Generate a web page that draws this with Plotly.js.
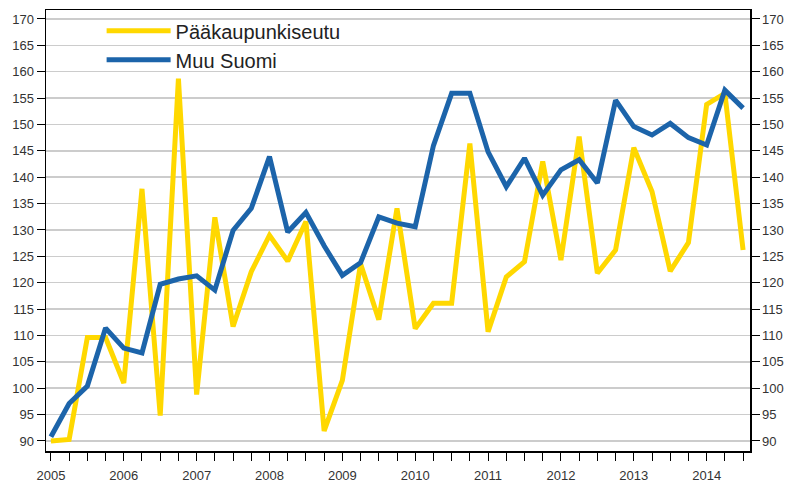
<!DOCTYPE html>
<html>
<head>
<meta charset="utf-8">
<script src="https://cdn.plot.ly/plotly-3.0.1.min.js"></script>
<style>html,body{margin:0;padding:0;background:#fff;}#chart{width:789px;height:491px;}</style>
</head>
<body>
<div id="chart"></div>
<script>
// Quarters 2005Q1 .. 2014Q3
const quarters = [
  "2005Q1","2005Q2","2005Q3","2005Q4",
  "2006Q1","2006Q2","2006Q3","2006Q4",
  "2007Q1","2007Q2","2007Q3","2007Q4",
  "2008Q1","2008Q2","2008Q3","2008Q4",
  "2009Q1","2009Q2","2009Q3","2009Q4",
  "2010Q1","2010Q2","2010Q3","2010Q4",
  "2011Q1","2011Q2","2011Q3","2011Q4",
  "2012Q1","2012Q2","2012Q3","2012Q4",
  "2013Q1","2013Q2","2013Q3","2013Q4",
  "2014Q1","2014Q2","2014Q3"
];
const seriesNames = ["Pääkaupunkiseutu", "Muu Suomi"];
const paakaupunkiseutu = [
  90.0, 90.3, 109.6, 109.6,
  101.0, 137.8, 94.8, 158.7,
  98.8, 132.4, 111.7, 122.1,
  129.0, 124.1, 131.6, 91.9,
  101.5, 123.6, 113.0, 134.1,
  111.3, 116.1, 116.1, 146.4,
  110.7, 121.1, 124.0, 143.0,
  124.3, 147.7, 121.8, 126.2,
  145.6, 137.3, 122.2, 127.6,
  153.8, 155.9, 126.2
];
const muuSuomi = [
  90.8, 97.1, 100.4, 111.4,
  107.6, 106.7, 119.7, 120.7,
  121.3, 118.6, 129.9, 134.1,
  143.9, 129.6, 133.3, 127.0,
  121.4, 123.8, 132.5, 131.3,
  130.6, 146.0, 155.9, 155.9,
  144.8, 138.2, 143.6, 136.6,
  141.4, 143.3, 138.9, 154.6,
  149.6, 148.0, 150.2, 147.5,
  146.1, 156.5, 153.1
];
const yTicks = [90,95,100,105,110,115,120,125,130,135,140,145,150,155,160,165,170];

const xIdx = quarters.map((q, i) => i);
const xTickText = quarters.map(q => q.endsWith("Q1") ? q.slice(0, 4) : "");

const tickFont = {family: "Liberation Sans, Arial, sans-serif", size: 13, color: "#333333"};

const traces = [
  {x: xIdx, y: paakaupunkiseutu, name: seriesNames[0], type: "scatter", mode: "lines",
   line: {color: "#FFD800", width: 5}},
  {x: xIdx, y: muuSuomi, name: seriesNames[1], type: "scatter", mode: "lines",
   yaxis: "y2", line: {color: "#1C64AA", width: 5}}
];

const layout = {
  width: 789, height: 491,
  margin: {l: 46, r: 39, t: 10, b: 40},
  paper_bgcolor: "#ffffff", plot_bgcolor: "#ffffff",
  showlegend: true,
  legend: {
    x: 0.079, y: 0.92, xanchor: "left", yanchor: "middle",
    bgcolor: "rgba(0,0,0,0)", borderwidth: 0,
    font: {family: "Liberation Sans, Arial, sans-serif", size: 20, color: "#222222"},
    itemwidth: 64, tracegroupgap: 0
  },
  xaxis: {
    range: [-0.27, 38.38],
    tickmode: "array", tickvals: xIdx, ticktext: xTickText,
    ticks: "outside", ticklen: 8, tickwidth: 1, tickcolor: "#000",
    ticklabelstandoff: 4,
    showline: true, linecolor: "#000", linewidth: 1.5, mirror: true,
    showgrid: false, zeroline: false, tickfont: tickFont
  },
  yaxis: {
    range: [88.1, 171.7],
    tickmode: "array", tickvals: yTicks,
    ticks: "outside", ticklen: 8, tickwidth: 1, tickcolor: "#000",
    showline: true, linecolor: "#000", linewidth: 1.5,
    showgrid: true, gridcolor: "#cccccc", gridwidth: 1.5,
    zeroline: false, tickfont: tickFont
  },
  yaxis2: {
    overlaying: "y", side: "right", matches: "y",
    range: [88.1, 171.7],
    tickmode: "array", tickvals: yTicks,
    ticks: "outside", ticklen: 8, tickwidth: 1, tickcolor: "#000",
    showline: true, linecolor: "#000", linewidth: 1.5,
    showgrid: false, zeroline: false, tickfont: tickFont
  }
};

Plotly.newPlot("chart", traces, layout, {displayModeBar: false, staticPlot: true});
</script>
</body>
</html>
